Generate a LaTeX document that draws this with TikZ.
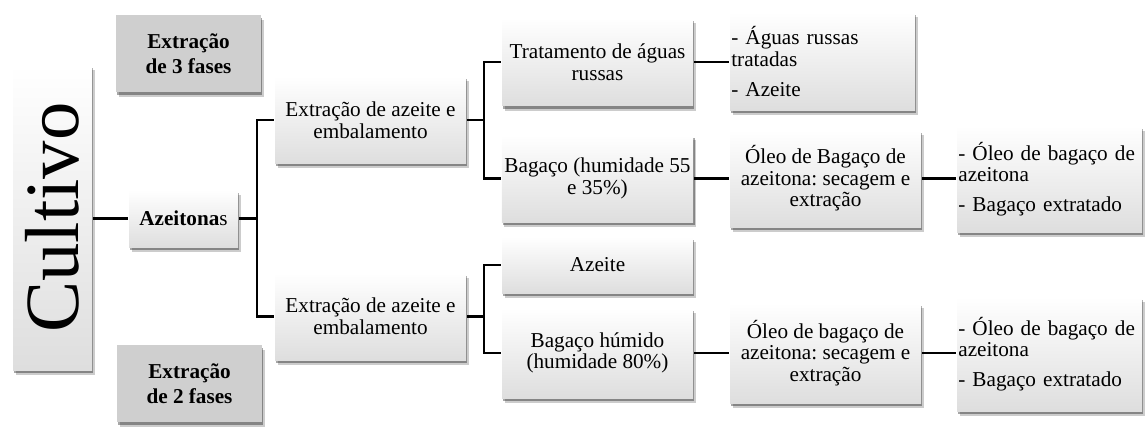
\documentclass[tikz,border=0pt]{standalone}
\usepackage{fontspec}
\setmainfont{Liberation Serif}
\usepackage{tikz}
\usetikzlibrary{shadows}
\frenchspacing
\tikzset{%
    soft shadow/.style={%
        drop shadow={shadow xshift=2pt,shadow yshift=-3.5pt,opacity=.2,fill=black},
        drop shadow={shadow xshift=1pt,shadow yshift=-2pt,opacity=.35,fill=black}
    }
}

\begin{document}
\begin{tikzpicture}[x=0.75pt,y=-0.75pt,line width=1.8pt,
  box node/.style={rectangle,soft shadow,top color=white,bottom color=black!13,
    minimum width=143.25pt,inner xsep=2pt,align=center,
    font=\fontsize{15.9}{16.2}\selectfont},
  list node/.style={box node,minimum width=138.75pt,text width=136.75pt,
    inner xsep=1pt,align=left},
  gray node/.style={rectangle,soft shadow,fill=black!19,minimum width=108.75pt,
    minimum height=57.75pt,align=center,font=\fontsize{15.9}{18.5}\selectfont\bfseries}]
  \useasboundingbox (0,0) rectangle (1146,428);

  \node[box node,minimum width=59.25pt,minimum height=228.75pt] (1) at (52.5,217.5)
    {\rotatebox{90}{\fontsize{57.5}{60}\selectfont Cultivo}};
  \node[gray node] (g3) at (188.5,53.5) {Extração\\de 3 fases};
  \node[gray node] (g2) at (189.5,383.5) {Extração\\de 2 fases};
  \node[box node,minimum width=81.75pt,minimum height=42.75pt] (2) at (183.5,218.5)
    {\textbf{Azeitona}s};

  % extracao de 3 fases
  \node[box node,minimum height=65.25pt] (3) at (370.5,120) {Extração de azeite e\\embalamento};
  \node[box node,minimum height=66pt] (5) at (597.5,62) {Tratamento de águas\\russas};
  \node[box node,minimum height=65.25pt] (6) at (597.5,178.5) {Bagaço (humidade 55\\e 35\%)};
  \node[list node,minimum height=73.5pt] (9) at (822.5,61.5) {- Águas russas\\tratadas\\[6pt]- Azeite};
  \node[box node,minimum height=72.75pt] (10) at (825.5,178.5) {Óleo de Bagaço de\\azeitona: secagem e\\extração};
  \node[list node,minimum height=79.5pt] (13) at (1049.5,179) {- Óleo de bagaço de\\azeitona\\[6pt]- Bagaço extratado};

  % extracao de 2 fases
  \node[box node,minimum height=65.25pt] (4) at (370.5,316.5) {Extração de azeite e\\embalamento};
  \node[box node,minimum height=42pt] (7) at (597.5,265) {Azeite};
  \node[box node,minimum height=67.5pt] (8) at (597.5,353) {Bagaço húmido\\(humidade 80\%)};
  \node[box node,minimum height=75pt] (11) at (825.5,353) {Óleo de bagaço de\\azeitona: secagem e\\extração};
  \node[list node,minimum height=85.5pt] (14) at (1049.5,354) {- Óleo de bagaço de\\azeitona\\[6pt]- Bagaço extratado};

  \draw (1.east |- 2.west) -- (2.west);
  \draw (2.east) -- ++(18,0) |- (3.west);
  \draw (2.east) -- ++(18,0) |- (4.west);
  \draw (3.east) -- ++(17,0) |- (5.west);
  \draw (3.east) -- ++(17,0) |- (6.west);
  \draw (4.east) -- ++(17,0) |- (7.west);
  \draw (4.east) -- ++(17,0) |- (8.west);
  \draw (5.east) -- (5.east -| 9.west);
  \draw (6.east) -- (10.west);
  \draw (8.east) -- (11.west);
  \draw (10.east) -- (10.east -| 13.west);
  \draw (11.east) -- (11.east -| 14.west);
\end{tikzpicture}
\end{document}
